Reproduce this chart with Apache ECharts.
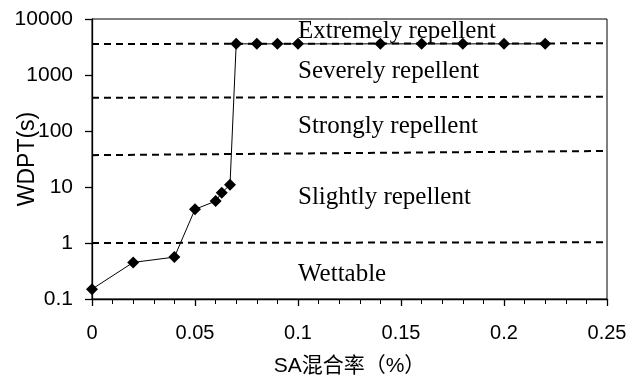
<!DOCTYPE html>
<html>
<head>
<meta charset="utf-8">
<script src="https://cdn.jsdelivr.net/npm/echarts@6/dist/echarts.min.js"></script>
<style>
  html, body { margin: 0; padding: 0; background: #fff; }
  #main { width: 640px; height: 376px; }
</style>
</head>
<body>
<div id="main"></div>
<script>
// SA mixing rate (%) and WDPT (s)
var saRate = [0, 0.02, 0.04, 0.05, 0.06, 0.063, 0.067, 0.07, 0.08, 0.09, 0.1, 0.14, 0.16, 0.18, 0.2, 0.22]
var wdpt = [0.15, 0.45, 0.56, 4.0, 5.6, 7.9, 11, 3600, 3600, 3600, 3600, 3600, 3600, 3600, 3600, 3600]

// class boundaries (dashed lines), left and right end values
var boundX = [0, 0.25]
var bound1 = [1, 1.03]
var bound2 = [37, 44]
var bound3 = [393, 410]
var bound4 = [3580, 3680]

var classNames = ['Extremely repellent', 'Severely repellent', 'Strongly repellent', 'Slightly repellent', 'Wettable']
var classY = [32, 72, 127, 198, 275]

function pairs (xs, ys) {
  var out = []
  for (var i = 0; i < xs.length; i++) out.push([xs[i], ys[i]])
  return out
}

var seriesOpt = []
var bounds = [bound1, bound2, bound3, bound4]
for (var i = 0; i < bounds.length; i++) {
  seriesOpt.push({
    type: 'line',
    data: pairs(boundX, bounds[i]),
    symbol: 'none',
    silent: true,
    lineStyle: { color: '#000', width: 2, type: [7, 5] },
    z: 1
  })
}
seriesOpt.push({
  type: 'line',
  data: pairs(saRate, wdpt),
  symbol: 'diamond',
  symbolSize: 12,
  lineStyle: { color: '#000', width: 1 },
  itemStyle: { color: '#000' },
  z: 3
})

var texts = []
for (var j = 0; j < classNames.length; j++) {
  texts.push({
    type: 'text',
    left: 298,
    top: classY[j] - 13,
    z: -1,
    style: {
      text: classNames[j],
      fill: '#000',
      font: '25px "Liberation Serif", "Times New Roman", serif'
    }
  })
}

var option = {
  animation: false,
  backgroundColor: '#fff',
  grid: {
    show: true,
    left: 92,
    right: 33,
    top: 19,
    bottom: 77,
    containLabel: false,
    outerBoundsMode: 'none',
    borderColor: '#000',
    borderWidth: 1
  },
  xAxis: {
    type: 'value',
    min: 0,
    max: 0.25,
    interval: 0.05,
    name: 'SA混合率（%）',
    nameLocation: 'middle',
    nameGap: 57,
    nameMoveOverlap: false,
    nameTextStyle: { color: '#000', fontSize: 21, fontFamily: '"Liberation Sans", Arial, "Noto Sans CJK SC"' },
    axisLine: { onZero: false, lineStyle: { color: '#000', width: 1.3 } },
    axisTick: { show: true, inside: false, length: 7, lineStyle: { color: '#000', width: 1.3 } },
    minorTick: { show: true, splitNumber: 5, length: 5, lineStyle: { color: '#000', width: 1 } },
    axisLabel: { color: '#000', fontSize: 20, margin: 24, fontFamily: '"Liberation Sans", Arial' },
    splitLine: { show: false }
  },
  yAxis: {
    type: 'log',
    logBase: 10,
    min: 0.1,
    max: 10000,
    name: 'WDPT(s)',
    nameLocation: 'middle',
    nameGap: 53,
    nameMoveOverlap: false,
    nameTextStyle: { color: '#000', fontSize: 23, fontFamily: '"Liberation Sans", Arial' },
    axisLine: { lineStyle: { color: '#000', width: 1.3 } },
    axisTick: { show: true, inside: false, length: 7, lineStyle: { color: '#000', width: 1.3 } },
    axisLabel: {
      color: '#000', fontSize: 21, margin: 19, fontFamily: '"Liberation Sans", Arial',
      formatter: function (v) { return String(+v.toPrecision(6)) }
    },
    splitLine: { show: false }
  },
  graphic: texts,
  series: seriesOpt
}

var myChart = echarts.init(document.getElementById('main'), null, { renderer: 'canvas' })
myChart.setOption(option)
</script>
</body>
</html>
